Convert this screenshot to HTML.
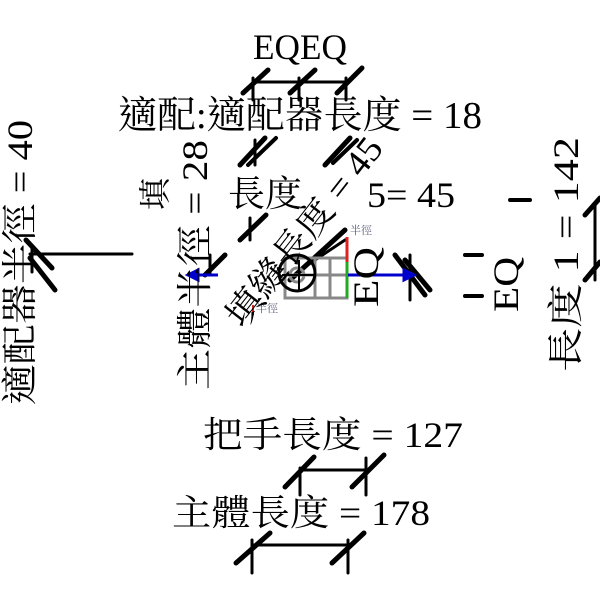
<!DOCTYPE html>
<html><head><meta charset="utf-8"><style>
html,body{margin:0;padding:0;background:#fff;}
svg{display:block;}
text{font-family:"Liberation Serif","Noto Serif CJK TC","Noto Serif CJK SC",serif;fill:#000;}
</style></head><body>
<svg width="600" height="600" viewBox="0 0 600 600" xmlns="http://www.w3.org/2000/svg">
<g stroke="#000" stroke-linecap="round" fill="none">
  <line x1="253" y1="82" x2="346" y2="82" stroke-width="3"/>
  <line x1="253" y1="78" x2="253" y2="100" stroke-width="3"/>
  <line x1="299" y1="78" x2="299" y2="100" stroke-width="3"/>
  <line x1="346" y1="78" x2="346" y2="100" stroke-width="3"/>
  <line x1="243" y1="93" x2="268" y2="70" stroke-width="5"/>
  <line x1="290" y1="93" x2="315" y2="70" stroke-width="5"/>
  <line x1="337" y1="93" x2="362" y2="68" stroke-width="5"/>
  <line x1="240" y1="165" x2="265" y2="138" stroke-width="5"/>
  <line x1="248" y1="165" x2="276" y2="138" stroke-width="4"/>
  <line x1="255" y1="140" x2="255" y2="165" stroke-width="3"/>
  <line x1="325" y1="165" x2="350" y2="138" stroke-width="5"/>
  <line x1="333" y1="163" x2="357" y2="140" stroke-width="4"/>
  <line x1="240" y1="240" x2="266" y2="215" stroke-width="5"/>
  <line x1="250" y1="218" x2="250" y2="240" stroke-width="3"/>
  <line x1="30" y1="254" x2="132" y2="254" stroke-width="3"/>
  <line x1="26" y1="240" x2="52" y2="268" stroke-width="5"/>
  <line x1="30" y1="258" x2="55" y2="290" stroke-width="5"/>
  <line x1="32" y1="248" x2="32" y2="272" stroke-width="3"/>
  <line x1="205" y1="275" x2="225" y2="255" stroke-width="5"/>
  <line x1="210" y1="255" x2="210" y2="275" stroke-width="3"/>
  <line x1="290" y1="280" x2="345" y2="230" stroke-width="5"/>
  <line x1="300" y1="270" x2="345" y2="240" stroke-width="3"/>
  <line x1="395" y1="255" x2="425" y2="295" stroke-width="5"/>
  <line x1="405" y1="260" x2="430" y2="290" stroke-width="5"/>
  <line x1="410" y1="255" x2="410" y2="300" stroke-width="3"/>
  <line x1="465" y1="255" x2="482" y2="255" stroke-width="4"/>
  <line x1="465" y1="296" x2="482" y2="296" stroke-width="4"/>
  <line x1="510" y1="200" x2="530" y2="200" stroke-width="4"/>
  <line x1="595" y1="205" x2="595" y2="280" stroke-width="3"/>
  <line x1="585" y1="215" x2="600" y2="198" stroke-width="5"/>
  <line x1="585" y1="280" x2="600" y2="262" stroke-width="5"/>
  <line x1="300" y1="470" x2="366" y2="470" stroke-width="3"/>
  <line x1="300" y1="468" x2="300" y2="495" stroke-width="3"/>
  <line x1="366" y1="458" x2="366" y2="495" stroke-width="3"/>
  <line x1="285" y1="487" x2="314" y2="457" stroke-width="5"/>
  <line x1="352" y1="487" x2="384" y2="455" stroke-width="5"/>
  <line x1="252" y1="545" x2="348" y2="545" stroke-width="3"/>
  <line x1="252" y1="540" x2="252" y2="573" stroke-width="3"/>
  <line x1="348" y1="540" x2="348" y2="573" stroke-width="3"/>
  <line x1="236" y1="563" x2="270" y2="533" stroke-width="5"/>
  <line x1="332" y1="563" x2="364" y2="533" stroke-width="5"/>
</g>
<g stroke="#888" stroke-width="3" fill="none">
  <rect x="285" y="258" width="62" height="40"/>
  <line x1="315" y1="258" x2="315" y2="298"/>
  <line x1="330" y1="258" x2="330" y2="298"/>
  <line x1="285" y1="275" x2="347" y2="275"/>
  <circle cx="297" cy="275" r="7"/>
</g>
<circle cx="297" cy="273" r="18" stroke="#000" stroke-width="3" fill="none"/>
<line x1="282" y1="275" x2="316" y2="275" stroke="#000" stroke-width="2"/>
<line x1="299" y1="260" x2="299" y2="290" stroke="#000" stroke-width="2"/>
<line x1="347" y1="237" x2="347" y2="262" stroke="#d22" stroke-width="3"/>
<line x1="347" y1="262" x2="347" y2="298" stroke="#2a2" stroke-width="3"/>
<line x1="253" y1="305" x2="253" y2="315" stroke="#d22" stroke-width="2"/>
<g stroke="#00c" stroke-width="3" fill="#00c">
  <line x1="195" y1="275" x2="218" y2="275"/>
  <polygon points="188,275 198,270 198,280"/>
  <line x1="348" y1="275" x2="405" y2="275"/>
  <polygon points="414,275 404,270 404,280"/>
</g>
<text x="350" y="234" font-size="11" style="fill:#557">半徑</text>
<text x="256" y="312" font-size="11" style="fill:#557">半徑</text>
<text x="253" y="59" font-size="36" textLength="94" lengthAdjust="spacingAndGlyphs">EQEQ</text>
<text x="118" y="128" font-size="38" textLength="364" lengthAdjust="spacingAndGlyphs">適配:適配器長度 = 18</text>
<text x="228" y="206" font-size="36" textLength="74" lengthAdjust="spacingAndGlyphs">長度</text>
<text x="367" y="207" font-size="36" textLength="88" lengthAdjust="spacingAndGlyphs">5= 45</text>
<text x="203" y="447" font-size="36" textLength="260" lengthAdjust="spacingAndGlyphs">把手長度 = 127</text>
<text x="172" y="525" font-size="36" textLength="258" lengthAdjust="spacingAndGlyphs">主體長度 = 178</text>
<text transform="translate(207,390) rotate(-90)" font-size="36" textLength="250" lengthAdjust="spacingAndGlyphs">主體半徑 = 28</text>
<text transform="translate(32,405) rotate(-90)" font-size="36" textLength="285" lengthAdjust="spacingAndGlyphs">適配器半徑 = 40</text>
<text transform="translate(243,330) rotate(-52)" font-size="36" textLength="230" lengthAdjust="spacingAndGlyphs">填縫長度 = 45</text>
<text transform="translate(378,307) rotate(-90)" font-size="36" textLength="60" lengthAdjust="spacingAndGlyphs">EQ</text>
<text transform="translate(518,312) rotate(-90)" font-size="36" textLength="55" lengthAdjust="spacingAndGlyphs">EQ</text>
<text transform="translate(578,372) rotate(-90)" font-size="36" textLength="235" lengthAdjust="spacingAndGlyphs">長度 1 = 142</text>
<text transform="translate(166,210) rotate(-90)" font-size="32">填</text>
</svg>
</body></html>
